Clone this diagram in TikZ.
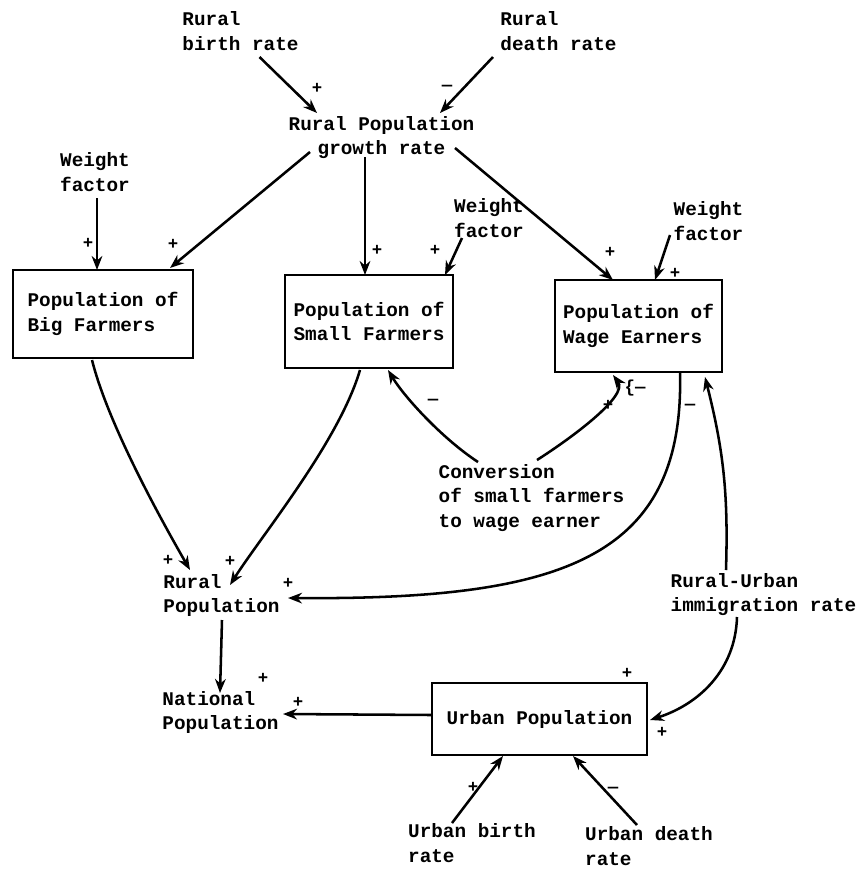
\documentclass[tikz,border=0pt]{standalone}
\usepackage{fontspec}
\setmainfont{Liberation Mono}
\usetikzlibrary{arrows.meta,calc}
\begin{document}
\begin{tikzpicture}[x=0.75pt,y=-0.75pt,
  lab/.style={font=\fontsize{14.5}{18.5}\selectfont\bfseries, align=left, inner sep=0pt},
  labc/.style={lab, align=center},
  box/.style={draw, line width=1.5pt, lab},
  sgn/.style={font=\fontsize{13}{14}\selectfont\bfseries, inner sep=0pt},
  arr/.style={line width=1.9pt, -{Stealth[length=10.5pt,width=8pt]}},
  ln/.style={line width=1.9pt}]
\useasboundingbox (0,0) rectangle (856,869);

% text nodes
\node[lab] (brr) at (240.5,31) {Rural\\birth rate};
\node[lab] (drr) at (558.5,31) {Rural\\death rate};
\node[labc] (rpg) at (381.5,137.5) {Rural Population\\growth rate};
\node[lab] (wf1) at (95,172) {Weight\\factor};
\node[lab] (wf2) at (489,218) {Weight\\factor};
\node[lab] (wf3) at (708.5,221) {Weight\\factor};
\node[lab] (conv) at (531.5,498) {Conversion\\of small farmers\\to wage earner};
\node[lab] (rp) at (221.5,595.5) {Rural\\Population};
\node[lab] (rui) at (763.5,594.5) {Rural-Urban\\immigration rate};
\node[lab] (np) at (220.5,712.5) {National\\Population};
\node[lab] (ubr) at (472,843) {Urban birth\\rate};
\node[lab] (udr) at (649,846) {Urban death\\rate};

% boxes
\node[box, minimum width=135pt, minimum height=66pt] (bf) at (103,314) {Population of\\Big Farmers};
\node[box, minimum width=126pt, minimum height=70pt] (sf) at (369,321.5) {Population of\\Small Farmers};
\node[box, minimum width=125pt, minimum height=69pt] (we) at (638.5,326) {Population of\\Wage Earners};
\node[box, minimum width=161pt, minimum height=54pt] (up) at (539.5,719) {Urban Population};

% connectors
\draw[arr] ($(brr)+(19,26)$) -- ($(rpg)+(-64.5,-24.5)$);
\draw[arr] ($(drr)+(-65.5,26)$) -- ($(rpg)+(58.5,-24.5)$);
\draw[arr] ($(rpg)+(-71.5,14.5)$) -- ($(bf)+(67,-46)$);
\draw[arr] ($(rpg)+(-16.5,19.5)$) -- ($(sf)+(-4,-46.5)$);
\draw[arr] ($(rpg)+(73.5,10.5)$) -- ($(we)+(-25.5,-46)$);
\draw[arr] ($(wf1)+(2,26)$) -- ($(bf)+(-6,-44)$);
\draw[arr] ($(wf2)+(-27,20)$) -- ($(sf)+(76,-46.5)$);
\draw[arr] ($(wf3)+(-38.5,14)$) -- ($(we)+(16.5,-46)$);
\draw[arr] ($(bf)+(-11,46)$) .. controls ($(bf)+(5,110)$) and ($(rp)+(-60,-75)$) .. ($(rp)+(-31.5,-25.5)$);
\draw[arr] ($(sf)+(-9,48.5)$) .. controls ($(sf)+(-30,120)$) and ($(rp)+(40,-60)$) .. ($(rp)+(8.5,-10.5)$);
\draw[arr] ($(conv)+(-53.5,-36)$) .. controls ($(conv)+(-90,-60)$) and ($(sf)+(35,75)$) .. ($(sf)+(19,48.5)$);
\draw[arr] ($(conv)+(5.5,-38)$) .. controls ($(conv)+(40,-60)$) and ($(we)+(-10,70)$) .. ($(we)+(-25.5,49)$);
\draw[arr] ($(we)+(41.5,46)$) .. controls (685,560) and (560,600) .. ($(rp)+(66.5,2.5)$);
\draw[arr] ($(rui)+(-37.5,-24.5)$) to[bend right=8] ($(we)+(66.5,51)$);
\draw[arr] ($(rui)+(-26.5,22.5)$) .. controls ($(rui)+(-28,75)$) and ($(up)+(160,-15)$) .. ($(up)+(110.5,1)$);
\draw[arr] ($(up.west)+(0,-4)$) -- ($(np)+(62.5,1.5)$);
\draw[arr] ($(rp)+(0.5,24.5)$) -- ($(np)+(-0.5,-19.5)$);
\draw[arr] ($(ubr)+(-20,-20)$) -- ($(up)+(-36.5,37)$);
\draw[arr] ($(udr)+(-12,-21)$) -- ($(up)+(33.5,37)$);

% signs
\node[sgn] (s1) at (317,88) {+};
\node[sgn] (s2) at (447,88) {—};
\node[sgn] (s3) at (88,243) {+};
\node[sgn] (s4) at (173,244) {+};
\node[sgn] (s5) at (377,250) {+};
\node[sgn] (s6) at (435,250) {+};
\node[sgn] (s7) at (610,252) {+};
\node[sgn] (s8) at (675,273) {+};
\node[sgn] (s9) at (433,402) {—};
\node[sgn] (s10) at (608,405) {+};
\node[sgn] (s11) at (635,388) {\{—};
\node[sgn] (s12) at (690,407) {—};
\node[sgn] (s13) at (168,560) {+};
\node[sgn] (s14) at (230,561) {+};
\node[sgn] (s15) at (288,583) {+};
\node[sgn] (s16) at (263,678) {+};
\node[sgn] (s17) at (298,702) {+};
\node[sgn] (s18) at (627,673) {+};
\node[sgn] (s19) at (662,732) {+};
\node[sgn] (s20) at (473,787) {+};
\node[sgn] (s21) at (613,790) {—};
\end{tikzpicture}
\end{document}
